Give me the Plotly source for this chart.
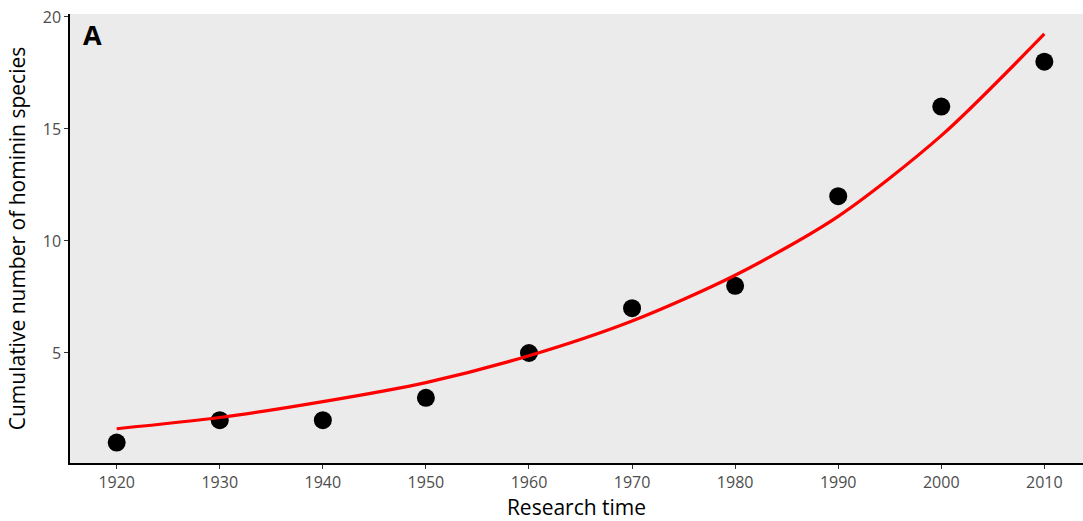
import plotly.graph_objects as go

# Cumulative count of hominin species by decade
years = [1920, 1930, 1940, 1950, 1960, 1970, 1980, 1990, 2000, 2010]
species = [1, 2, 2, 3, 5, 7, 8, 12, 16, 18]

# Fitted exponential trend, sampled at each decade
trend_years = [1920, 1930, 1940, 1950, 1960, 1970, 1980, 1990, 2000, 2010]
trend_values = [1.62, 2.12, 2.83, 3.68, 4.88, 6.43, 8.47, 11.1, 14.7, 19.24]

x_ticks = [1920, 1930, 1940, 1950, 1960, 1970, 1980, 1990, 2000, 2010]
y_ticks = [5, 10, 15, 20]

FONT = "Open Sans"

fig = go.Figure()

fig.add_trace(go.Scatter(
    x=years, y=species, mode="markers",
    marker=dict(color="black", size=18, line=dict(width=0)),
    showlegend=False, hoverinfo="x+y",
))

fig.add_trace(go.Scatter(
    x=trend_years, y=trend_values, mode="lines",
    line=dict(color="#FF0000", width=3.2, shape="spline", smoothing=0.8),
    showlegend=False, hoverinfo="skip",
))

fig.update_layout(
    width=1083, height=521,
    margin=dict(l=70, r=0, t=14, b=58),
    paper_bgcolor="white",
    plot_bgcolor="#EBEBEB",
    font=dict(family=FONT, color="black"),
    xaxis=dict(
        range=[1915.47, 2013.75],
        tickvals=x_ticks,
        ticktext=[str(v) for v in x_ticks],
        showgrid=False, zeroline=False,
        showline=True, linecolor="black", linewidth=1.5,
        ticks="outside", ticklen=4, tickwidth=1.2, tickcolor="#333333",
        tickfont=dict(family=FONT, size=16, color="#4D4D4D"),
        title=dict(text="Research time", font=dict(family=FONT, size=21, color="black"), standoff=5),
    ),
    yaxis=dict(
        range=[0.09, 20.13],
        tickvals=y_ticks,
        ticktext=[str(v) for v in y_ticks],
        showgrid=False, zeroline=False,
        showline=True, linecolor="black", linewidth=1.5,
        ticks="outside", ticklen=4, tickwidth=1.2, tickcolor="#333333",
        tickfont=dict(family=FONT, size=16, color="#4D4D4D"),
        title=dict(text="Cumulative number of hominin species", font=dict(family=FONT, size=21, color="black"), standoff=11),
    ),
    annotations=[dict(
        text="<b>A</b>", x=0.011, y=1.0, xref="paper", yref="paper",
        xanchor="left", yanchor="top", showarrow=False,
        font=dict(family=FONT, size=27, color="black"),
    )],
)

fig.write_html("out.html")
